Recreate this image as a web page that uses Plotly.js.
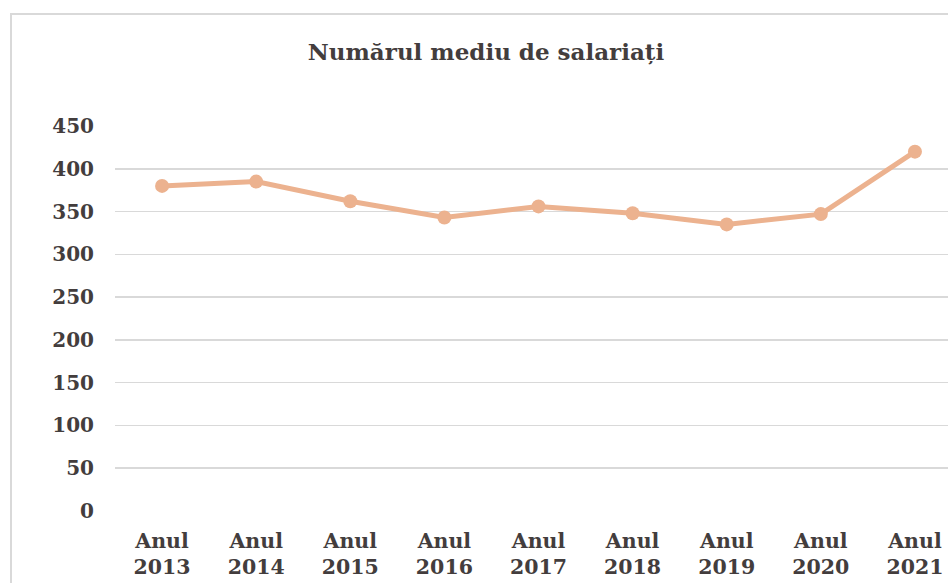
<!DOCTYPE html>
<html>
<head>
<meta charset="utf-8">
<script src="https://cdn.plot.ly/plotly-3.0.1.min.js"></script>
<style>
html, body { margin: 0; padding: 0; width: 948px; height: 583px; overflow: hidden; background: #fff; }
#chart { position: absolute; left: 0; top: 0; width: 1000px; height: 640px; }
#frame { position: absolute; left: 10px; top: 13px; width: 1000px; height: 700px;
  border-left: 2px solid #d9d9d9; border-top: 2px solid #d9d9d9; pointer-events: none; }
</style>
</head>
<body>
<div id="chart"></div>
<div id="frame"></div>
<script>
const categories = ["Anul<br>2013", "Anul<br>2014", "Anul<br>2015", "Anul<br>2016", "Anul<br>2017",
                    "Anul<br>2018", "Anul<br>2019", "Anul<br>2020", "Anul<br>2021"];
const values = [380, 385, 362, 343, 356, 348, 335, 347, 420];
const yTicks = [0, 50, 100, 150, 200, 250, 300, 350, 400, 450];

const textColor = "#433d3d";
const fontFam = "DejaVu Serif, serif";

Plotly.newPlot("chart", [{
  type: "scatter",
  mode: "lines+markers",
  x: categories,
  y: values,
  line: { color: "#ecb28f", width: 5 },
  marker: { color: "#ecb28f", size: 14 },
  hoverinfo: "skip"
}], {
  width: 1000,
  height: 640,
  margin: { l: 115, r: 38, t: 126, b: 129 },
  paper_bgcolor: "#ffffff",
  plot_bgcolor: "#ffffff",
  showlegend: false,
  title: {
    text: "<b>Numărul mediu de salariați</b>",
    font: { family: fontFam, size: 23, color: textColor },
    x: 486 / 1000, xanchor: "center",
    y: 1 - 52 / 640, yanchor: "middle"
  },
  xaxis: {
    type: "category",
    range: [-0.5, 8.5],
    showgrid: false,
    zeroline: false,
    showline: false,
    ticks: "",
    ticklabelstandoff: 15,
    tickfont: { family: fontFam, size: 20.5, color: textColor, weight: "bold" }
  },
  yaxis: {
    range: [0, 450],
    tickvals: yTicks,
    ticktext: yTicks.map(String),
    showgrid: true,
    gridcolor: "#d9d9d9",
    gridwidth: 1.5,
    zeroline: false,
    showline: false,
    ticks: "",
    ticklabelstandoff: 20,
    tickfont: { family: fontFam, size: 20, color: textColor, weight: "bold" }
  }
}, { staticPlot: true });
</script>
</body>
</html>
